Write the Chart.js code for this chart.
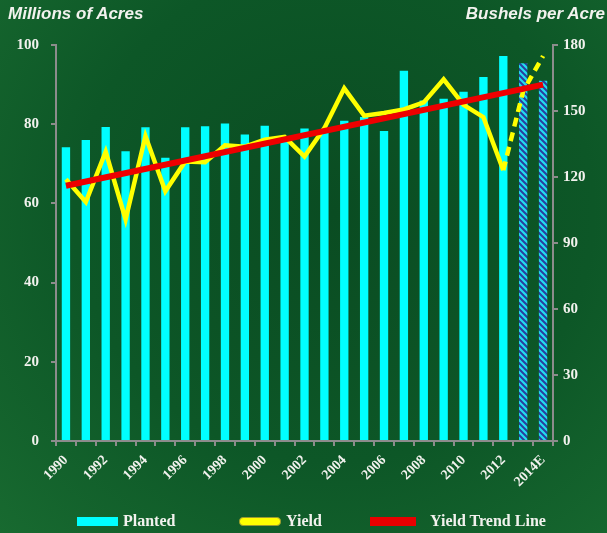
<!DOCTYPE html>
<html>
<head>
<meta charset="utf-8">
<script src="https://cdn.jsdelivr.net/npm/chart.js@4.4.1/dist/chart.umd.min.js"></script>
<style>
  body { margin: 0; }
  #wrap {
    position: relative; width: 607px; height: 533px; overflow: hidden;
    background: radial-gradient(ellipse at 55% 40%, #0a4c22 0%, #0d5727 55%, #186a30 100%);
  }
  canvas { position: absolute; left: 0; top: 0; }
  .axis-title {
    position: absolute; top: 4px; color: #f2f2ee;
    font: italic bold 17px "Liberation Sans", Arial, sans-serif;
  }
  .leg { position: absolute; top: 510px; height: 22px; color: #f2f2ee;
    font: bold 16px "Liberation Serif", "Times New Roman", serif; line-height: 22px; }
  .box { position: absolute; top: 517px; height: 9px; }
</style>
</head>
<body>
<div id="wrap">
  <canvas id="myChart" width="607" height="533"></canvas>
  <div class="axis-title" style="left:8px">Millions of Acres</div>
  <div class="axis-title" style="right:2px">Bushels per Acre</div>

  <div class="box" style="left:77px;width:41px;background:#00ffff"></div>
  <div class="leg" style="left:123px">Planted</div>
  <div class="box" style="left:239px;width:42px;background:#ffff00;border-radius:4px;box-sizing:border-box;border:1px solid #9a9a30"></div>
  <div class="leg" style="left:286px">Yield</div>
  <div class="box" style="left:370px;width:46px;background:#e80000"></div>
  <div class="leg" style="left:430px">Yield Trend Line</div>
</div>
<script>
// US corn: acres planted (left axis) and yield (right axis)
const years = ['1990','1991','1992','1993','1994','1995','1996','1997','1998','1999',
  '2000','2001','2002','2003','2004','2005','2006','2007','2008','2009',
  '2010','2011','2012','2013','2014E'];

const planted = [74.2, 76.0, 79.3, 73.2, 79.2, 71.5, 79.2, 79.5, 80.2, 77.4,
  79.6, 75.7, 78.9, 78.6, 80.9, 81.8, 78.3, 93.5, 86.0, 86.4,
  88.2, 91.9, 97.2, 95.4, 91.0];

const yieldBu = [119, 108.6, 131.5, 100.7, 138.6, 113.5, 127.1, 126.7, 134.4, 133.8,
  136.9, 138.2, 129.3, 142.2, 160.3, 147.9, 149.1, 150.7, 153.9, 164.4,
  152.8, 147.2, 123.1, 159, 175];

// trend line: only the two end points
const trend = [116, null, null, null, null, null, null, null, null, null,
  null, null, null, null, null, null, null, null, null, null,
  null, null, null, null, 162];

const leftTicks = [0, 20, 40, 60, 80, 100];
const rightTicks = [0, 30, 60, 90, 120, 150, 180];

const firstEstimate = 23; // 2013 and 2014E are hatched / dashed

function makeHatch() {
  const c = document.createElement('canvas');
  c.width = 6; c.height = 6;
  const g = c.getContext('2d');
  g.fillStyle = '#22dcee';
  g.fillRect(0, 0, 6, 6);
  g.strokeStyle = '#2a3d9e';
  g.lineWidth = 2;
  g.beginPath();
  g.moveTo(-3, 3); g.lineTo(3, 9);
  g.moveTo(0, 0); g.lineTo(6, 6);
  g.moveTo(3, -3); g.lineTo(9, 3);
  g.stroke();
  return g.createPattern(c, 'repeat');
}

const hatch = makeHatch();
const ctx = document.getElementById('myChart');

const tickFont = { family: '"Liberation Serif", "Times New Roman", serif', weight: 'bold', size: 15 };
const gridStyle = { drawOnChartArea: false, color: '#8c8c8c', tickLength: 5, lineWidth: 2 };

new Chart(ctx, {
  type: 'bar',
  data: {
    labels: years,
    datasets: [
      {
        type: 'line',
        label: 'Yield Trend Line',
        data: trend,
        yAxisID: 'y1',
        borderColor: '#ee0000',
        borderWidth: 6,
        pointRadius: 0,
        spanGaps: true,
        order: 1
      },
      {
        type: 'line',
        label: 'Yield',
        data: yieldBu,
        yAxisID: 'y1',
        borderColor: '#ffff00',
        borderWidth: 4.5,
        pointRadius: 0,
        tension: 0,
        segment: {
          borderDash: c => c.p1DataIndex >= firstEstimate ? [9, 6] : undefined
        },
        order: 2
      },
      {
        label: 'Planted',
        data: planted,
        yAxisID: 'y',
        backgroundColor: c => (c.dataIndex >= firstEstimate ? hatch : '#00ffff'),
        categoryPercentage: 1,
        barPercentage: 0.42,
        order: 3
      }
    ]
  },
  options: {
    responsive: false,
    devicePixelRatio: 1,
    animation: false,
    layout: { padding: { top: 45, bottom: 42, left: 0, right: 0 } },
    plugins: {
      legend: { display: false },
      tooltip: { enabled: false }
    },
    scales: {
      x: {
        grid: gridStyle,
        border: { color: '#8c8c8c', width: 2 },
        ticks: {
          color: '#f2f2ee',
          font: { family: tickFont.family, weight: 'bold', size: 14 },
          autoSkip: false,
          minRotation: 45,
          maxRotation: 45,
          padding: 6,
          callback: function (val, i) {
            return i % 2 === 0 ? this.getLabelForValue(val) : '';
          }
        },
        afterFit: s => { s.height = 50; }
      },
      y: {
        position: 'left',
        min: 0,
        max: 100,
        grid: gridStyle,
        border: { color: '#8c8c8c', width: 2 },
        afterBuildTicks: s => { s.ticks = leftTicks.map(v => ({ value: v })); },
        ticks: { color: '#f2f2ee', font: tickFont, padding: 12 },
        afterFit: s => { s.width = 56; }
      },
      y1: {
        position: 'right',
        min: 0,
        max: 180,
        grid: gridStyle,
        border: { color: '#8c8c8c', width: 2 },
        afterBuildTicks: s => { s.ticks = rightTicks.map(v => ({ value: v })); },
        ticks: { color: '#f2f2ee', font: tickFont, padding: 5 },
        afterFit: s => { s.width = 54; }
      }
    }
  }
});
</script>
</body>
</html>
